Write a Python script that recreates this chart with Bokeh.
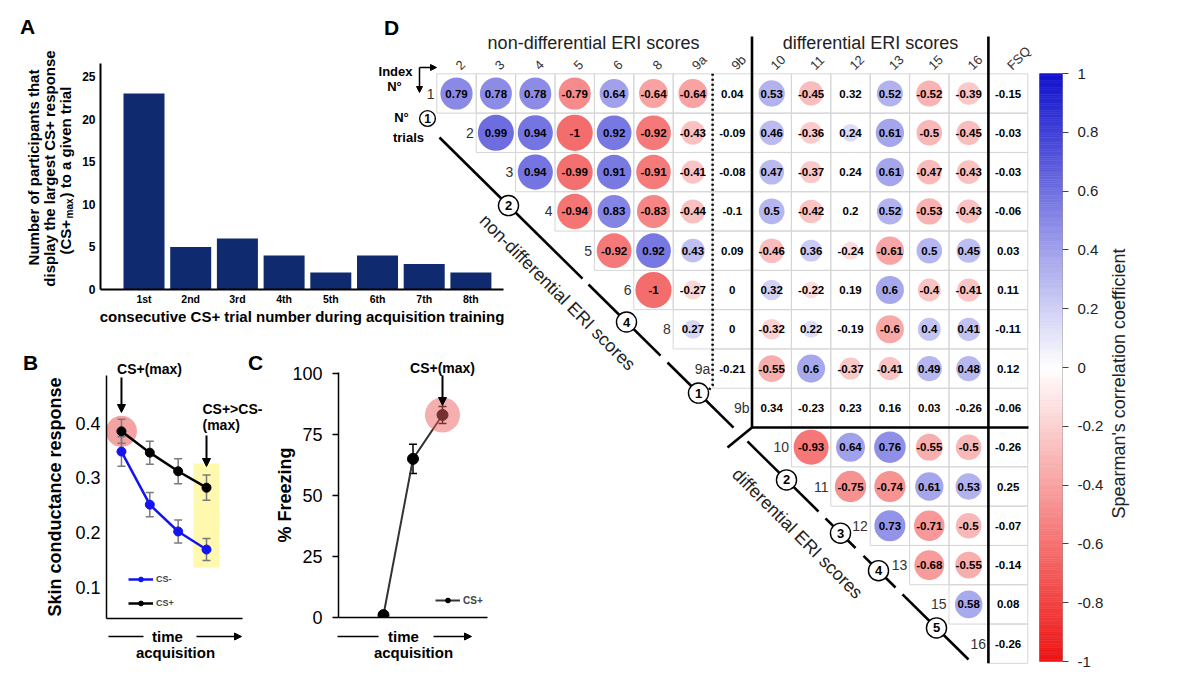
import math
from bokeh.plotting import figure
from bokeh.models import (ColumnDataSource, Range1d, FixedTicker, Arrow, NormalHead,
                          Whisker, TeeHead, BoxAnnotation, LinearColorMapper, LinearAxis,
                          Legend, LegendItem, GridBox)
from bokeh.transform import transform
from bokeh.core.properties import value
from bokeh.embed import file_html
from bokeh.resources import INLINE

FONT = "Liberation Sans"
NAVY = "#0f2a6e"
BLUE_LINE = "#1414f0"

# ---------------- data ----------------
a_trial_labels = ["1st", "2nd", "3rd", "4th", "5th", "6th", "7th", "8th"]
a_participants = [23, 5, 6, 4, 2, 4, 3, 2]
a_yticks = [0, 5, 10, 15, 20, 25]

b_time = [1, 2, 3, 4]
b_cs_plus = [0.385, 0.346, 0.312, 0.282]
b_cs_plus_sem = [0.022, 0.021, 0.023, 0.023]
b_cs_minus = [0.348, 0.251, 0.202, 0.169]
b_cs_minus_sem = [0.027, 0.022, 0.021, 0.020]
b_yticks = [0.1, 0.2, 0.3, 0.4]

c_time = [1, 2, 3]
c_freezing = [1, 65, 83]
c_freezing_sem = [1, 6, 3.5]
c_yticks = [0, 25, 50, 75, 100]

d_row_labels = ["1", "2", "3", "4", "5", "6", "8", "9a", "9b", "10", "11", "12", "13", "15", "16"]
d_col_labels = ["2", "3", "4", "5", "6", "8", "9a", "9b", "10", "11", "12", "13", "15", "16", "FSQ"]
d_r1 = [0.79, 0.78, 0.78, -0.79, 0.64, -0.64, -0.64, 0.04, 0.53, -0.45, 0.32, 0.52, -0.52, -0.39]
d_r2 = [0.99, 0.94, -1, 0.92, -0.92, -0.43, -0.09, 0.46, -0.36, 0.24, 0.61, -0.5, -0.45]
d_r3 = [0.94, -0.99, 0.91, -0.91, -0.41, -0.08, 0.47, -0.37, 0.24, 0.61, -0.47, -0.43]
d_r4 = [-0.94, 0.83, -0.83, -0.44, -0.1, 0.5, -0.42, 0.2, 0.52, -0.53, -0.43]
d_r5 = [-0.92, 0.92, 0.43, 0.09, -0.46, 0.36, -0.24, -0.61, 0.5, 0.45]
d_r6 = [-1, -0.27, 0, 0.32, -0.22, 0.19, 0.6, -0.4, -0.41]
d_r8 = [0.27, 0, -0.32, 0.22, -0.19, -0.6, 0.4, 0.41]
d_r9a = [-0.21, -0.55, 0.6, -0.37, -0.41, 0.49, 0.48]
d_r9b = [0.34, -0.23, 0.23, 0.16, 0.03, -0.26]
d_r10 = [-0.93, 0.64, 0.76, -0.55, -0.5]
d_r11 = [-0.75, -0.74, 0.61, 0.53]
d_r12 = [0.73, -0.71, -0.5]
d_r13 = [-0.68, -0.55]
d_r15 = [0.58]
d_r16 = []
d_rows = [d_r1, d_r2, d_r3, d_r4, d_r5, d_r6, d_r8, d_r9a, d_r9b, d_r10, d_r11, d_r12, d_r13, d_r15, d_r16]
d_fsq = [-0.15, -0.03, -0.03, -0.06, 0.03, 0.11, -0.11, 0.12, -0.06, -0.26, 0.25, -0.07, -0.14, 0.08, -0.26]
d_not_significant = [("1", "9b"), ("1", "12"), ("2", "9b"), ("3", "9b"), ("3", "12"), ("4", "9b"),
                     ("4", "12"), ("5", "9b"), ("6", "9b"), ("6", "12"), ("8", "9b"), ("8", "12"),
                     ("9a", "9b"), ("9b", "10"), ("9b", "11"), ("9b", "12"), ("9b", "13"),
                     ("9b", "15"), ("9b", "16")]
d_trial_numbers = ["2", "4", "1", "2", "3", "4", "5"]
cb_ticks = [1, 0.8, 0.6, 0.4, 0.2, 0, -0.2, -0.4, -0.6, -0.8, -1]
cb_tick_labels = ["1", "0.8", "0.6", "0.4", "0.2", "0", "-0.2", "-0.4", "-0.6", "-0.8", "-1"]


# ---------------- helpers ----------------
def lin(r0, r1, d0, d1):
    k = (d1 - d0) / (r1 - r0)
    return lambda r: d0 + (r - r0) * k


def make_fig(box, frame, xr, yr, axes=True):
    l, t, r, b = box
    fl, ft, fr, fb = frame
    kw = {}
    if not axes:
        kw = dict(x_axis_location=None, y_axis_location=None)
    p = figure(width=r - l, height=b - t, x_range=Range1d(*xr), y_range=Range1d(*yr),
               output_backend="svg", toolbar_location=None, title=None,
               min_border_left=fl - l, min_border_right=r - fr,
               min_border_top=ft - t, min_border_bottom=b - fb, **kw)
    p.border_fill_color = None
    p.background_fill_color = None
    p.outline_line_color = None
    p.xgrid.visible = False
    p.ygrid.visible = False
    return p, lin(fl, fr, xr[0], xr[1]), lin(fb, ft, yr[0], yr[1])


def style_axis(ax, size, bold, lw=2.0, ticks=False):
    ax.axis_line_width = lw
    ax.axis_line_color = "black"
    if ticks:
        ax.major_tick_line_color = "black"
        ax.major_tick_line_width = lw
        ax.major_tick_out = 6
        ax.major_tick_in = 0
    else:
        ax.major_tick_line_color = None
        ax.major_tick_out = 0
        ax.major_tick_in = 0
    ax.minor_tick_line_color = None
    ax.major_label_text_font = FONT
    ax.major_label_text_font_size = size
    ax.major_label_text_font_style = "bold" if bold else "normal"
    ax.major_label_text_color = "black"
    ax.axis_label_text_font = FONT
    ax.axis_label_text_font_style = "bold"
    ax.axis_label_text_color = "black"


def arrow(p, x0, y0, x1, y1, head=True, lw=2.0, size=8):
    end = NormalHead(size=size, fill_color="black", line_color="black") if head else None
    p.add_layout(Arrow(x_start=x0, y_start=y0, x_end=x1, y_end=y1, line_width=lw,
                       line_color="black", end=end))


def legend(p, items, loc, size):
    lg = Legend(items=items, location=loc, glyph_width=25, glyph_height=12, label_height=12,
                label_text_font=FONT, label_text_font_size=size, label_text_font_style="bold",
                label_standoff=3, spacing=12, padding=0, margin=0,
                background_fill_alpha=0, border_line_alpha=0)
    p.add_layout(lg)


def txt(p, x, y, text, size, bold=False, angle=0.0, align="center", color="black"):
    p.text(x=[x], y=[y], text=[text], angle=angle, text_align=align, text_baseline="middle",
           text_font=value(FONT), text_font_size=size,
           text_font_style="bold" if bold else "normal", text_color=color)


# ---------------- panel A ----------------
pa, ax_, ay_ = make_fig((0, 0, 515, 355), (100, 63, 503, 289), (0.0685, 8.698), (0, 26.53))
a_x = list(range(1, len(a_trial_labels) + 1))
pa.vbar(x=a_x, top=a_participants, width=0.878, fill_color=NAVY, line_color=None)
style_axis(pa.xaxis[0], "10.5px", True, lw=2)
style_axis(pa.yaxis[0], "12px", True, lw=2)
pa.xaxis.ticker = FixedTicker(ticks=a_x)
pa.xaxis.major_label_overrides = dict(zip(a_x, a_trial_labels))
pa.xaxis.major_label_standoff = 3
pa.xaxis.axis_label = "consecutive CS+ trial number during acquisition training"
pa.xaxis.axis_label_text_font_size = "15px"
pa.xaxis.axis_label_standoff = 0
pa.yaxis.ticker = FixedTicker(ticks=a_yticks)
pa.yaxis.major_label_standoff = 5

# ---------------- panel B ----------------
pb, bx, by = make_fig((0, 355, 290, 672), (106, 375, 242, 618), (0.472, 5.27), (0.043, 0.487))
pb.add_layout(BoxAnnotation(left=b_time[-1] - 0.46, right=b_time[-1] + 0.46, bottom=by(567), top=by(463),
                            fill_color="#FFF9B0", fill_alpha=1, line_color=None, level="image"))
pb.scatter([b_time[0]], [b_cs_plus[0]], size=31, fill_color="#F4A3A3", line_color=None, level="image")
for vals, sems in ((b_cs_minus, b_cs_minus_sem), (b_cs_plus, b_cs_plus_sem)):
    src = ColumnDataSource(dict(x=b_time, lo=[v - e for v, e in zip(vals, sems)],
                                hi=[v + e for v, e in zip(vals, sems)]))
    pb.add_layout(Whisker(source=src, base="x", lower="lo", upper="hi", line_color="#7a7a7a",
                          line_width=1.5,
                          upper_head=TeeHead(size=8, line_color="#7a7a7a", line_width=1.5),
                          lower_head=TeeHead(size=8, line_color="#7a7a7a", line_width=1.5)))
lm = pb.line(b_time, b_cs_minus, line_color=BLUE_LINE, line_width=2.5)
sm = pb.scatter(b_time, b_cs_minus, size=9, fill_color=BLUE_LINE, line_color=BLUE_LINE)
lp = pb.line(b_time, b_cs_plus, line_color="black", line_width=2.5)
sp = pb.scatter(b_time, b_cs_plus, size=9, fill_color="black", line_color="black")
style_axis(pb.xaxis[0], "0px", False, lw=1.5)
style_axis(pb.yaxis[0], "18px", False, lw=1.5)
pb.xaxis.ticker = FixedTicker(ticks=[])
pb.yaxis.ticker = FixedTicker(ticks=b_yticks)
pb.yaxis.major_label_standoff = 6
pb.yaxis.axis_label = "Skin conductance response"
pb.yaxis.axis_label_text_font_size = "18px"
pb.yaxis.axis_label_standoff = 7
legend(pb, [LegendItem(label="CS-", renderers=[lm, sm]), LegendItem(label="CS+", renderers=[lp, sp])],
       (22, 9), "9px")
arrow(pb, b_time[0], by(377), b_time[0], by(412))
arrow(pb, b_time[-1], by(435), b_time[-1], by(466))

# ---------------- panel C ----------------
pc, cx, cy = make_fig((240, 355, 515, 672), (338, 372, 487, 617), (-0.525, 4.525), (0, 100.4))
src_c = ColumnDataSource(dict(x=c_time, lo=[v - e for v, e in zip(c_freezing, c_freezing_sem)],
                              hi=[v + e for v, e in zip(c_freezing, c_freezing_sem)]))
pc.add_layout(Whisker(source=src_c, base="x", lower="lo", upper="hi", line_color="black", line_width=1.5,
                      upper_head=TeeHead(size=8, line_color="black", line_width=1.5),
                      lower_head=TeeHead(size=8, line_color="black", line_width=1.5)))
lc = pc.line(c_time, c_freezing, line_color="#333333", line_width=2)
sc = pc.scatter(c_time, c_freezing, size=11, fill_color="black", line_color="black")
pc.scatter([c_time[-1]], [c_freezing[-1]], size=35, fill_color="#EE6060", fill_alpha=0.5, line_color=None)
style_axis(pc.xaxis[0], "0px", False, lw=1.5)
style_axis(pc.yaxis[0], "18px", False, lw=1.5, ticks=True)
pc.xaxis.ticker = FixedTicker(ticks=[])
pc.yaxis.ticker = FixedTicker(ticks=c_yticks)
pc.yaxis.major_label_standoff = 10
pc.yaxis.axis_label = "% Freezing"
pc.yaxis.axis_label_text_font_size = "18px"
pc.yaxis.axis_label_standoff = -6
legend(pc, [LegendItem(label="CS+", renderers=[lc, sc])], (97, 11), "10px")
arrow(pc, c_time[-1], cy(375), c_time[-1], cy(405))

# ---------------- panel D ----------------
pdd, du, dv = make_fig((375, 0, 1196, 672), (375, 0, 1196, 672),
                       ((375 - 456) / 39.4, (1196 - 456) / 39.4),
                       ((672 - 93) / 39.3, (0 - 93) / 39.3), axes=False)

RED = (238, 20, 20)
BLUE = (18, 18, 205)


def mix(c, t):
    return tuple(int(round(255 + (ci - 255) * t)) for ci in c)


palette = []
for k in range(256):
    t = -1 + 2 * k / 255
    palette.append("#%02x%02x%02x" % (mix(RED, -t) if t < 0 else mix(BLUE, t)))
cmap = LinearColorMapper(palette=palette, low=-1, high=1)

fsq_j = len(d_col_labels) - 1
cells = dict(u=[], v=[], txt=[])
circ = dict(u=[], v=[], r=[], rad=[])
for i, (rlab, vals) in enumerate(zip(d_row_labels, d_rows)):
    entries = [(i + k, r) for k, r in enumerate(vals)] + [(fsq_j, d_fsq[i])]
    for j, r in entries:
        cells["u"].append(j)
        cells["v"].append(i)
        cells["txt"].append(f"{r:g}")
        if j != fsq_j and (rlab, d_col_labels[j]) not in d_not_significant:
            circ["u"].append(j)
            circ["v"].append(i)
            circ["r"].append(r)
            circ["rad"].append(0.46 * math.sqrt(abs(r)))
cell_src = ColumnDataSource(cells)
circ_src = ColumnDataSource(circ)

pdd.rect(x="u", y="v", width=1, height=1, source=cell_src, fill_color=None,
         line_color="#d6d6d6", line_width=1)
pdd.circle(x="u", y="v", radius="rad", source=circ_src, fill_color=transform("r", cmap),
           fill_alpha=0.62, line_color=None)
pdd.text(x="u", y="v", text="txt", source=cell_src, text_font=value(FONT), text_font_size="11.5px",
         text_font_style="bold", text_align="center", text_baseline="middle", text_color="black")

pdd.text(x=[i - 0.56 for i in range(len(d_row_labels))], y=list(range(len(d_row_labels))),
         text=d_row_labels, text_font=value(FONT), text_font_size="14px", text_color="#333333",
         text_align="right", text_baseline="middle")
pdd.text(x=[j + 0.03 for j in range(len(d_col_labels))], y=[-0.66] * len(d_col_labels),
         text=d_col_labels, angle=math.pi / 4, text_font=value(FONT), text_font_size="13px",
         text_color="#333333", text_align="left", text_baseline="middle")

pdd.text(x=[du(593), du(870)], y=[dv(42), dv(42)],
         text=["non-differential ERI scores", "differential ERI scores"],
         text_font=value(FONT), text_font_size="18px", text_color="#222222",
         text_align="center", text_baseline="middle")
pdd.text(x=[du(557), du(797)], y=[dv(292), dv(533)],
         text=["non-differential ERI scores", "differential ERI scores"], angle=-math.pi / 4,
         text_font=value(FONT), text_font_size="18px", text_color="#222222",
         text_align="center", text_baseline="middle")

pdd.segment(x0=[7.5, 7.5, fsq_j - 0.5], y0=[dv(36), 8.5, dv(36)],
            x1=[7.5, du(1028), fsq_j - 0.5], y1=[8.5, 8.5, len(d_row_labels) - 0.5],
            line_color="black", line_width=2.6)
pdd.segment(x0=[7.5], y0=[8.5], x1=[du(727)], y1=[dv(447)], line_color="black", line_width=2.6)
pdd.line(x=[6.5, 6.5, du(707)], y=[-0.5, dv(385), dv(391)], line_color="black", line_width=2.5,
         line_dash="2 3")

u_a, u_b = du(439), du(968)
v_a, v_b = dv(137), dv(659)


def on_line(u):
    return v_a + (u - u_a) * (v_b - v_a) / (u_b - u_a)


gaps = [(582, 588), (660, 667), (733, 747), (818, 825), (855, 863), (895, 902)]
pts = [u_a]
for g0, g1 in gaps:
    pts += [du(g0), du(g1)]
pts.append(u_b)
xs, ys = [], []
for k in range(0, len(pts), 2):
    xs.append([pts[k], pts[k + 1]])
    ys.append([on_line(pts[k]), on_line(pts[k + 1])])
pdd.multi_line(xs=xs, ys=ys, line_color="black", line_width=2.6)

mark_u = [du(x) for x in (508, 626, 698, 786, 840, 878, 936)]
mark_v = [on_line(u) for u in mark_u]
pdd.circle(x=mark_u, y=mark_v, radius=0.255, fill_color="white", line_color="black", line_width=1.4)
pdd.text(x=mark_u, y=mark_v, text=d_trial_numbers, text_font=value(FONT), text_font_size="13px",
         text_font_style="bold", text_align="center", text_baseline="middle")

txt(pdd, du(391), dv(27), "D", "21px", True)
pdd.text(x=[du(395), du(394), du(401), du(408)], y=[dv(71), dv(86), dv(117), dv(137)],
         text=["Index", "N°", "N°", "trials"], text_font=value(FONT), text_font_size="13px",
         text_font_style="bold", text_align="center", text_baseline="middle")
pdd.circle(x=[du(427)], y=[dv(118)], radius=0.2, fill_color="white", line_color="black", line_width=1.4)
txt(pdd, du(427), dv(118), "1", "12px", True)
arrow(pdd, du(419), dv(67), du(436), dv(67), lw=1.5, size=6)
arrow(pdd, du(419), dv(67), du(419), dv(92), lw=1.5, size=6)

# ---------------- colour bar (own figure, right axis) ----------------
pcb, _, _ = make_fig((515, 0, 1196, 672), (1039, 73, 1062, 661), (0, 1), (-1, 1), axes=False)
edges = [-1 + 2 * k / len(palette) for k in range(len(palette) + 1)]
pcb.quad(left=0, right=1, bottom=edges[:-1], top=edges[1:], fill_color=palette, line_color=palette,
         line_width=0.6)
pcb.outline_line_color = "#9a9a9a"
pcb.outline_line_width = 1
cax = LinearAxis(ticker=FixedTicker(ticks=cb_ticks),
                 major_label_overrides=dict(zip(cb_ticks, cb_tick_labels)))
style_axis(cax, "15px", False, lw=1, ticks=True)
cax.axis_line_color = None
cax.major_tick_line_color = "#444444"
cax.major_tick_line_width = 1
cax.major_label_text_color = "#222222"
cax.major_label_standoff = 9
pcb.add_layout(cax, "right")

# ---------------- overlay with the free texts ----------------
po, _, _ = make_fig((0, 0, 1196, 672), (0, 0, 1196, 672), (0, 1196), (672, 0), axes=False)
txt(po, 27, 26, "A", "21px", True)
txt(po, 33, 167, "Number of participants that", "15px", True, angle=math.pi / 2)
txt(po, 49, 168, "display the largest CS+ response", "15px", True, angle=math.pi / 2)
txt(po, 65, 254, "(CS+", "15px", True, angle=math.pi / 2, align="left")
txt(po, 69, 218, "max", "10px", True, angle=math.pi / 2, align="left")
txt(po, 65, 197, ") to a given trial", "15px", True, angle=math.pi / 2, align="left")

txt(po, 30, 362, "B", "21px", True)
txt(po, 255, 362, "C", "21px", True)
txt(po, 149, 368, "CS+(max)", "14px", True)
txt(po, 202, 408, "CS+>CS-", "14px", True, align="left")
txt(po, 202, 424, "(max)", "14px", True, align="left")
txt(po, 442, 367, "CS+(max)", "14px", True)

for cxm, lx0, lx1, rx0, rx1, ax_center in ((167, 108, 143, 196, 241, 175), (403, 337, 378, 433, 471, 413)):
    txt(po, cxm, 636, "time", "15px", True)
    arrow(po, lx0, 636, lx1, 636, head=False, lw=1.5)
    arrow(po, rx0, 636, rx1, 636, lw=1.5, size=7)
    txt(po, ax_center, 652, "acquisition", "15px", True)

txt(po, 1118, 383, "Spearman's correlation coefficient", "18px", False, angle=math.pi / 2, color="#222222")

# ---------------- layout ----------------
# every plot gets its own start/end grid lines (zero-size tracks between coincident
# lines) so that the grid does not try to align the plots' frames with each other
col_tracks = ["0px", "0px", "240px", "50px", "85px", "140px", "0px", "0px", "681px", "0px", "0px"]
row_tracks = ["0px", "0px", "0px", "355px", "0px", "0px", "317px", "0px", "0px", "0px", "0px"]
grid = GridBox(children=[(pa, 1, 1, 3, 5), (pb, 5, 2, 2, 2), (pc, 6, 3, 2, 4), (pdd, 2, 5, 7, 4),
                         (pcb, 3, 8, 7, 2), (po, 0, 0, 11, 11)],
               rows=row_tracks, cols=col_tracks)

open("out.html", "w").write(file_html(grid, INLINE))
